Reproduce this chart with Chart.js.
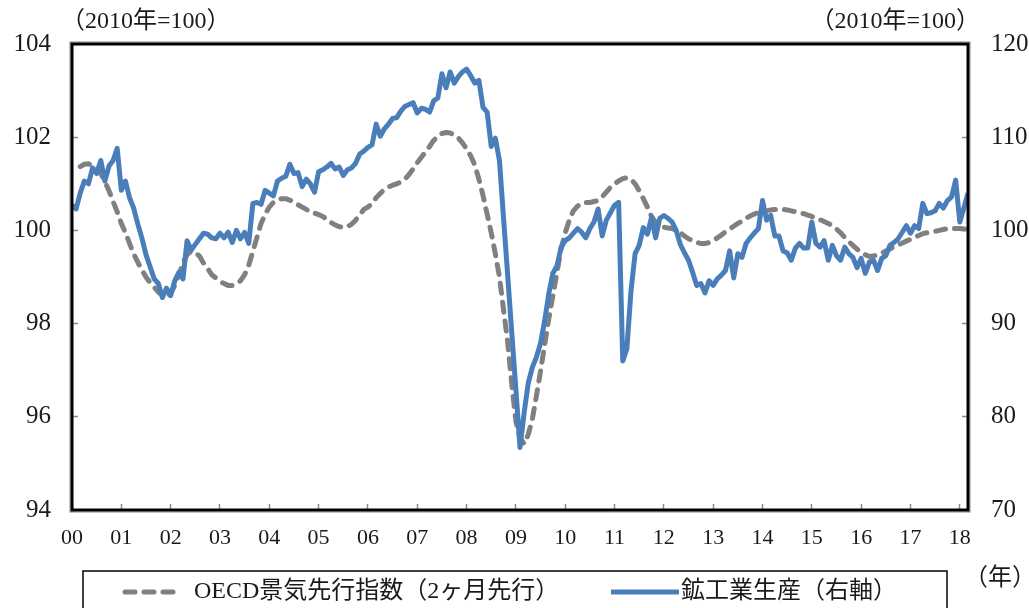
<!DOCTYPE html>
<html lang="ja">
<head>
<meta charset="utf-8">
<title>OECD景気先行指数と鉱工業生産</title>
<script src="https://cdn.jsdelivr.net/npm/chart.js@4/dist/chart.umd.min.js"></script>
<style>
  html, body { margin: 0; padding: 0; background: #fff; }
  canvas { display: block; }
</style>
</head>
<body>
<canvas id="c" width="1029" height="608"></canvas>
<script>
// Year labels on the horizontal axis (one tick every 12 months, Jan 2000 = month 0)
const yearLabels = ['00','01','02','03','04','05','06','07','08','09','10','11','12','13','14','15','16','17','18'];

// Mining & manufacturing production, 2010=100 (right axis), monthly Jan 2000 - Mar 2018
const iip = [
  102.7, 102.3, 104.0, 105.3, 105.0, 106.7, 106.1, 107.5, 105.3, 106.9, 107.5, 108.8,
  104.3, 105.3, 103.5, 102.4, 100.7,  99.2,  97.4,  96.1,  94.8,  94.3,  92.8,  93.8,
   93.0,  94.6,  95.5,  94.8,  98.9,  97.9,  98.5,  99.1,  99.7,  99.6,  99.2,  99.1,
   99.7,  99.2,  99.8,  98.7, 100.0,  99.1,  99.8,  98.6, 102.9, 103.0, 102.8, 104.3,
  104.0, 103.7, 105.3, 105.6, 105.8, 107.1, 106.1, 106.2, 104.7, 105.5, 105.0, 104.1,
  106.3, 106.5, 106.8, 107.2, 106.6, 106.8, 105.9, 106.5, 106.7, 107.2, 108.2, 108.5,
  108.9, 109.2, 111.4, 110.1, 110.9, 111.4, 112.0, 112.1, 112.8, 113.3, 113.5, 113.7,
  112.6, 113.1, 113.0, 112.7, 113.9, 114.2, 116.8, 115.3, 117.0, 115.8, 116.5, 117.0,
  117.3, 116.6, 115.8, 116.1, 113.2, 112.7, 109.0, 109.9, 107.5, 101.3,  95.2,  89.0,
   82.9,  76.7,  80.4,  83.6,  85.3,  86.4,  87.9,  90.3,  93.2,  95.4,  96.2,  98.2,
   98.9,  99.2,  99.7, 100.2,  99.8,  99.2, 100.2, 100.9, 102.3,  99.4, 101.1, 101.9,
  102.7, 103.0,  86.0,  87.3,  93.5,  97.5,  98.4, 100.3,  99.6, 101.4,  99.2, 101.3,
  101.6, 101.3, 100.9, 100.0,  98.5,  97.6,  96.8,  95.5,  94.1,  94.3,  93.3,  94.6,
   94.1,  94.8,  95.2,  95.7,  97.8,  94.9,  97.5,  97.1,  98.6,  99.2,  99.7, 100.2,
  103.2, 101.1, 101.6,  99.4,  99.4,  97.8,  97.6,  96.8,  98.1,  98.6,  98.1,  98.1,
  100.9,  98.6,  98.2,  98.9,  96.8,  98.4,  97.3,  96.8,  98.2,  97.5,  97.1,  96.0,
   97.0,  95.4,  96.6,  96.8,  95.7,  97.0,  97.3,  98.4,  98.7,  99.1,  99.8, 100.5,
   99.7, 100.5, 100.2, 102.9, 101.8, 101.9, 102.1, 102.9, 102.4, 103.2, 103.6, 105.4,
  100.9, 102.4, 104.0
];

// OECD composite leading indicator for Japan, shifted 2 months ahead (left axis)
const cli = [
   null,   null, 101.37, 101.42, 101.43, 101.38, 101.31, 101.22, 101.05, 100.85, 100.62, 100.40,
  100.15,  99.95,  99.72,  99.50,  99.32,  99.15,  99.00,  98.88,  98.78,  98.68,  98.60,  98.56,
   98.65,  98.82,  99.05,  99.30,  99.48,  99.55,  99.52,  99.45,  99.30,  99.18,  99.05,  98.98,
   98.90,  98.86,  98.82,  98.82,  98.85,  98.92,  99.05,  99.25,  99.55,  99.85, 100.15, 100.35,
  100.50, 100.60, 100.65, 100.68, 100.68, 100.65, 100.60, 100.55, 100.50, 100.45, 100.40, 100.37,
  100.34, 100.30, 100.24, 100.17, 100.12, 100.08, 100.06, 100.08, 100.13, 100.22, 100.33, 100.45,
  100.50, 100.58, 100.70, 100.79, 100.88, 100.93, 100.97, 101.00, 101.04, 101.10, 101.20, 101.32,
  101.45, 101.57, 101.68, 101.80, 101.93, 102.02, 102.08, 102.10, 102.09, 102.05, 101.98, 101.88,
  101.75, 101.60, 101.40, 101.10, 100.75, 100.35,  99.95,  99.50,  99.00,  98.30,  97.60,  96.70,
   95.90,  95.55,  95.42,  95.62,  95.95,  96.45,  96.98,  97.55,  98.10,  98.60,  99.10,  99.60,
   99.95, 100.22, 100.42, 100.52, 100.58, 100.60, 100.60, 100.62, 100.64, 100.72, 100.82, 100.92,
  101.00, 101.06, 101.11, 101.13, 101.10, 101.00, 100.85, 100.68, 100.50, 100.30, 100.17, 100.10,
  100.07, 100.05, 100.04, 100.00,  99.95,  99.88,  99.82,  99.78,  99.74,  99.72,  99.72,  99.74,
   99.78,  99.84,  99.90,  99.97, 100.03, 100.09, 100.15, 100.20, 100.26, 100.31, 100.35, 100.38,
  100.40, 100.42, 100.44, 100.45, 100.45, 100.45, 100.44, 100.42, 100.40, 100.38, 100.36, 100.33,
  100.30, 100.26, 100.23, 100.19, 100.15, 100.10, 100.03,  99.95,  99.85,  99.76,  99.68,  99.60,
   99.53,  99.48,  99.44,  99.45,  99.48,  99.51,  99.56,  99.60,  99.65,  99.69,  99.73,  99.77,
   99.81,  99.85,  99.89,  99.93,  99.95,  99.97,  99.98, 100.00, 100.02, 100.04, 100.04, 100.04,
  100.04, 100.03, 100.02
];

const monthIndex = iip.map((_, i) => i);

const SERIF_JP = '"Liberation Serif", "Noto Sans CJK JP", serif';
const BLUE = '#4A7EBB';
const GREY = '#808080';

// Frame around the plot area, unit captions, legend box and year marker
const decorations = {
  id: 'decorations',
  afterDatasetsDraw(chart) {
    const { ctx, chartArea: a } = chart;
    ctx.save();
    ctx.lineJoin = 'miter';
    ctx.strokeStyle = '#9a9a9a';
    ctx.lineWidth = 1.2;
    ctx.strokeRect(a.left - 2, a.top - 2, a.right - a.left + 4, a.bottom - a.top + 4);
    ctx.strokeStyle = '#000';
    ctx.lineWidth = 3;
    ctx.strokeRect(a.left, a.top, a.right - a.left, a.bottom - a.top);
    ctx.restore();
  },
  afterDraw(chart, args, opts) {
    const { ctx, chartArea: a } = chart;
    ctx.save();
    ctx.fillStyle = '#1a1a1a';
    ctx.textBaseline = 'middle';
    ctx.font = '24px ' + SERIF_JP;
    ctx.textAlign = 'left';
    ctx.fillText(opts.leftUnit, a.left - 11, 22);
    ctx.textAlign = 'right';
    ctx.fillText(opts.rightUnit, a.right + 12, 22);
    ctx.textAlign = 'center';
    ctx.fillText(opts.yearMark, 1000, 579);

    // legend frame
    const lg = opts.legend;
    ctx.strokeStyle = '#000';
    ctx.lineWidth = 1.5;
    ctx.strokeRect(lg.left, lg.top, lg.right - lg.left, 60);

    // legend entries use each dataset's own stroke settings
    ctx.font = '24px ' + SERIF_JP;
    ctx.textAlign = 'left';
    lg.items.forEach((it, k) => {
      const ds = chart.data.datasets[k];
      ctx.save();
      ctx.strokeStyle = ds.borderColor;
      ctx.lineWidth = ds.borderWidth;
      ctx.lineCap = ds.borderCapStyle || 'butt';
      ctx.setLineDash(ds.borderDash || []);
      ctx.beginPath();
      ctx.moveTo(it.x0, lg.y);
      ctx.lineTo(it.x1, lg.y);
      ctx.stroke();
      ctx.restore();
      ctx.fillText(ds.label, it.tx, lg.y);
    });
    ctx.restore();
  }
};

new Chart(document.getElementById('c'), {
  type: 'line',
  data: {
    labels: monthIndex,
    datasets: [
      {
        label: 'OECD景気先行指数（2ヶ月先行）',
        data: cli,
        yAxisID: 'y',
        borderColor: GREY,
        borderWidth: 5,
        borderDash: [10, 9],
        borderCapStyle: 'round',
        borderJoinStyle: 'round',
        pointRadius: 0,
        tension: 0,
        fill: false,
        order: 2
      },
      {
        label: '鉱工業生産（右軸）',
        data: iip,
        yAxisID: 'y1',
        borderColor: BLUE,
        borderWidth: 5,
        borderCapStyle: 'butt',
        borderJoinStyle: 'round',
        pointRadius: 0,
        tension: 0,
        fill: false,
        order: 1
      }
    ]
  },
  options: {
    responsive: false,
    animation: false,
    events: [],
    layout: { padding: { top: 43, left: 0, right: 0, bottom: 0 } },
    plugins: {
      legend: { display: false },
      tooltip: { enabled: false },
      title: { display: false },
      decorations: {
        leftUnit: '（2010年=100）',
        rightUnit: '（2010年=100）',
        yearMark: '（年）',
        legend: {
          left: 83, right: 947, top: 571, y: 592,
          items: [ { x0: 125, x1: 182, tx: 194 }, { x0: 611, x1: 679, tx: 681 } ]
        }
      }
    },
    scales: {
      x: {
        type: 'linear',
        min: 0,
        max: monthIndex.length - 1,
        position: 'bottom',
        afterBuildTicks: (scale) => {
          scale.ticks = yearLabels.map((_, i) => ({ value: i * 12 }));
        },
        afterFit: (scale) => { scale.height = 98; },
        ticks: {
          autoSkip: false,
          maxRotation: 0,
          padding: 21,
          color: '#1a1a1a',
          font: { family: SERIF_JP, size: 22 },
          callback: (v) => yearLabels[Math.round(v / 12)]
        },
        grid: { drawOnChartArea: false, drawTicks: true, tickLength: -6, tickColor: '#8a8a8a', tickWidth: 1.5 },
        border: { display: false }
      },
      y: {
        position: 'left',
        min: 94,
        max: 104,
        afterFit: (scale) => { scale.width = 72; },
        ticks: {
          stepSize: 2,
          padding: 27,
          color: '#1a1a1a',
          font: { family: SERIF_JP, size: 25 }
        },
        grid: { drawOnChartArea: false, drawTicks: true, tickLength: -6, tickColor: '#8a8a8a', tickWidth: 1.5 },
        border: { display: false }
      },
      y1: {
        position: 'right',
        min: 70,
        max: 120,
        afterFit: (scale) => { scale.width = 61; },
        ticks: {
          stepSize: 10,
          padding: 29,
          color: '#1a1a1a',
          font: { family: SERIF_JP, size: 25 }
        },
        grid: { drawOnChartArea: false, drawTicks: true, tickLength: -6, tickColor: '#8a8a8a', tickWidth: 1.5 },
        border: { display: false }
      }
    }
  },
  plugins: [decorations]
});
</script>
</body>
</html>
